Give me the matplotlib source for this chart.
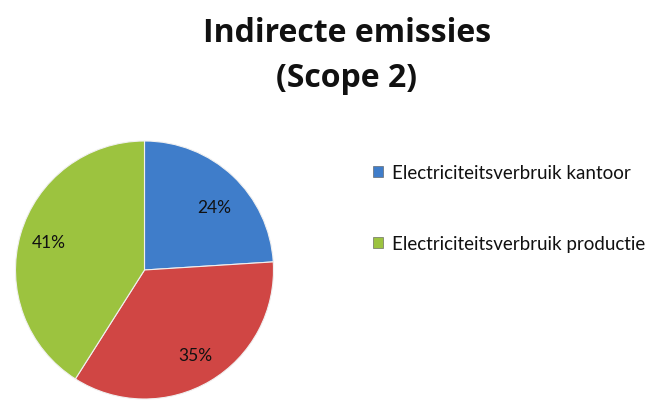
import matplotlib
matplotlib.use("Agg")
import matplotlib.pyplot as plt
from matplotlib.patches import Patch

labels = ["Electriciteitsverbruik kantoor", "Electriciteitsverbruik overig", "Electriciteitsverbruik productie"]
values = [24, 35, 41]
colors = ["#3F7DCA", "#D04644", "#9CC33F"]
legend_idx = [0, 2]
title = "Indirecte emissies\n(Scope 2)"

plt.rcParams['font.family'] = ['Lato', 'DejaVu Sans']

fig = plt.figure(figsize=(6.71, 4.06), dpi=100)
fig.patch.set_facecolor("white")

cx, cy, r = 144.5 / 671, 1 - 271 / 406, 129
w, h = 2 * r / 671, 2 * r / 406
ax = fig.add_axes([cx - w / 2, cy - h / 2, w, h])
wedges, texts, autotexts = ax.pie(
    values, colors=colors, startangle=90, counterclock=False,
    autopct=lambda p: f"{p:.0f}%", pctdistance=0.77, radius=1,
    wedgeprops=dict(edgecolor="#f0f0f0", linewidth=0.8),
    textprops=dict(fontsize=12.5, color="#111111"))
autotexts[0].set_position((autotexts[0].get_position()[0] + 0.01,
                           autotexts[0].get_position()[1] - 0.07))
ax.set_xlim(-1, 1)
ax.set_ylim(-1, 1)
ax.set_aspect("equal")

fig.text(0.517, 0.958, title, ha="center", va="top", fontsize=23,
         fontweight="bold", linespacing=1.47, color="#111111",
         family=['Open Sans', 'DejaVu Sans'])

handles = [Patch(facecolor=colors[i], edgecolor="#555555", linewidth=0.4) for i in legend_idx]
leg = fig.legend(handles, [labels[i] for i in legend_idx], loc="upper left",
                 bbox_to_anchor=(356 / 671, 1 - 148 / 406), frameon=False,
                 fontsize=13.5, handlelength=0.55, handleheight=0.55,
                 handletextpad=0.45, labelspacing=2.88)
for t in leg.get_texts():
    t.set_color("#111111")

fig.savefig("out.png", dpi=100, facecolor="white")
